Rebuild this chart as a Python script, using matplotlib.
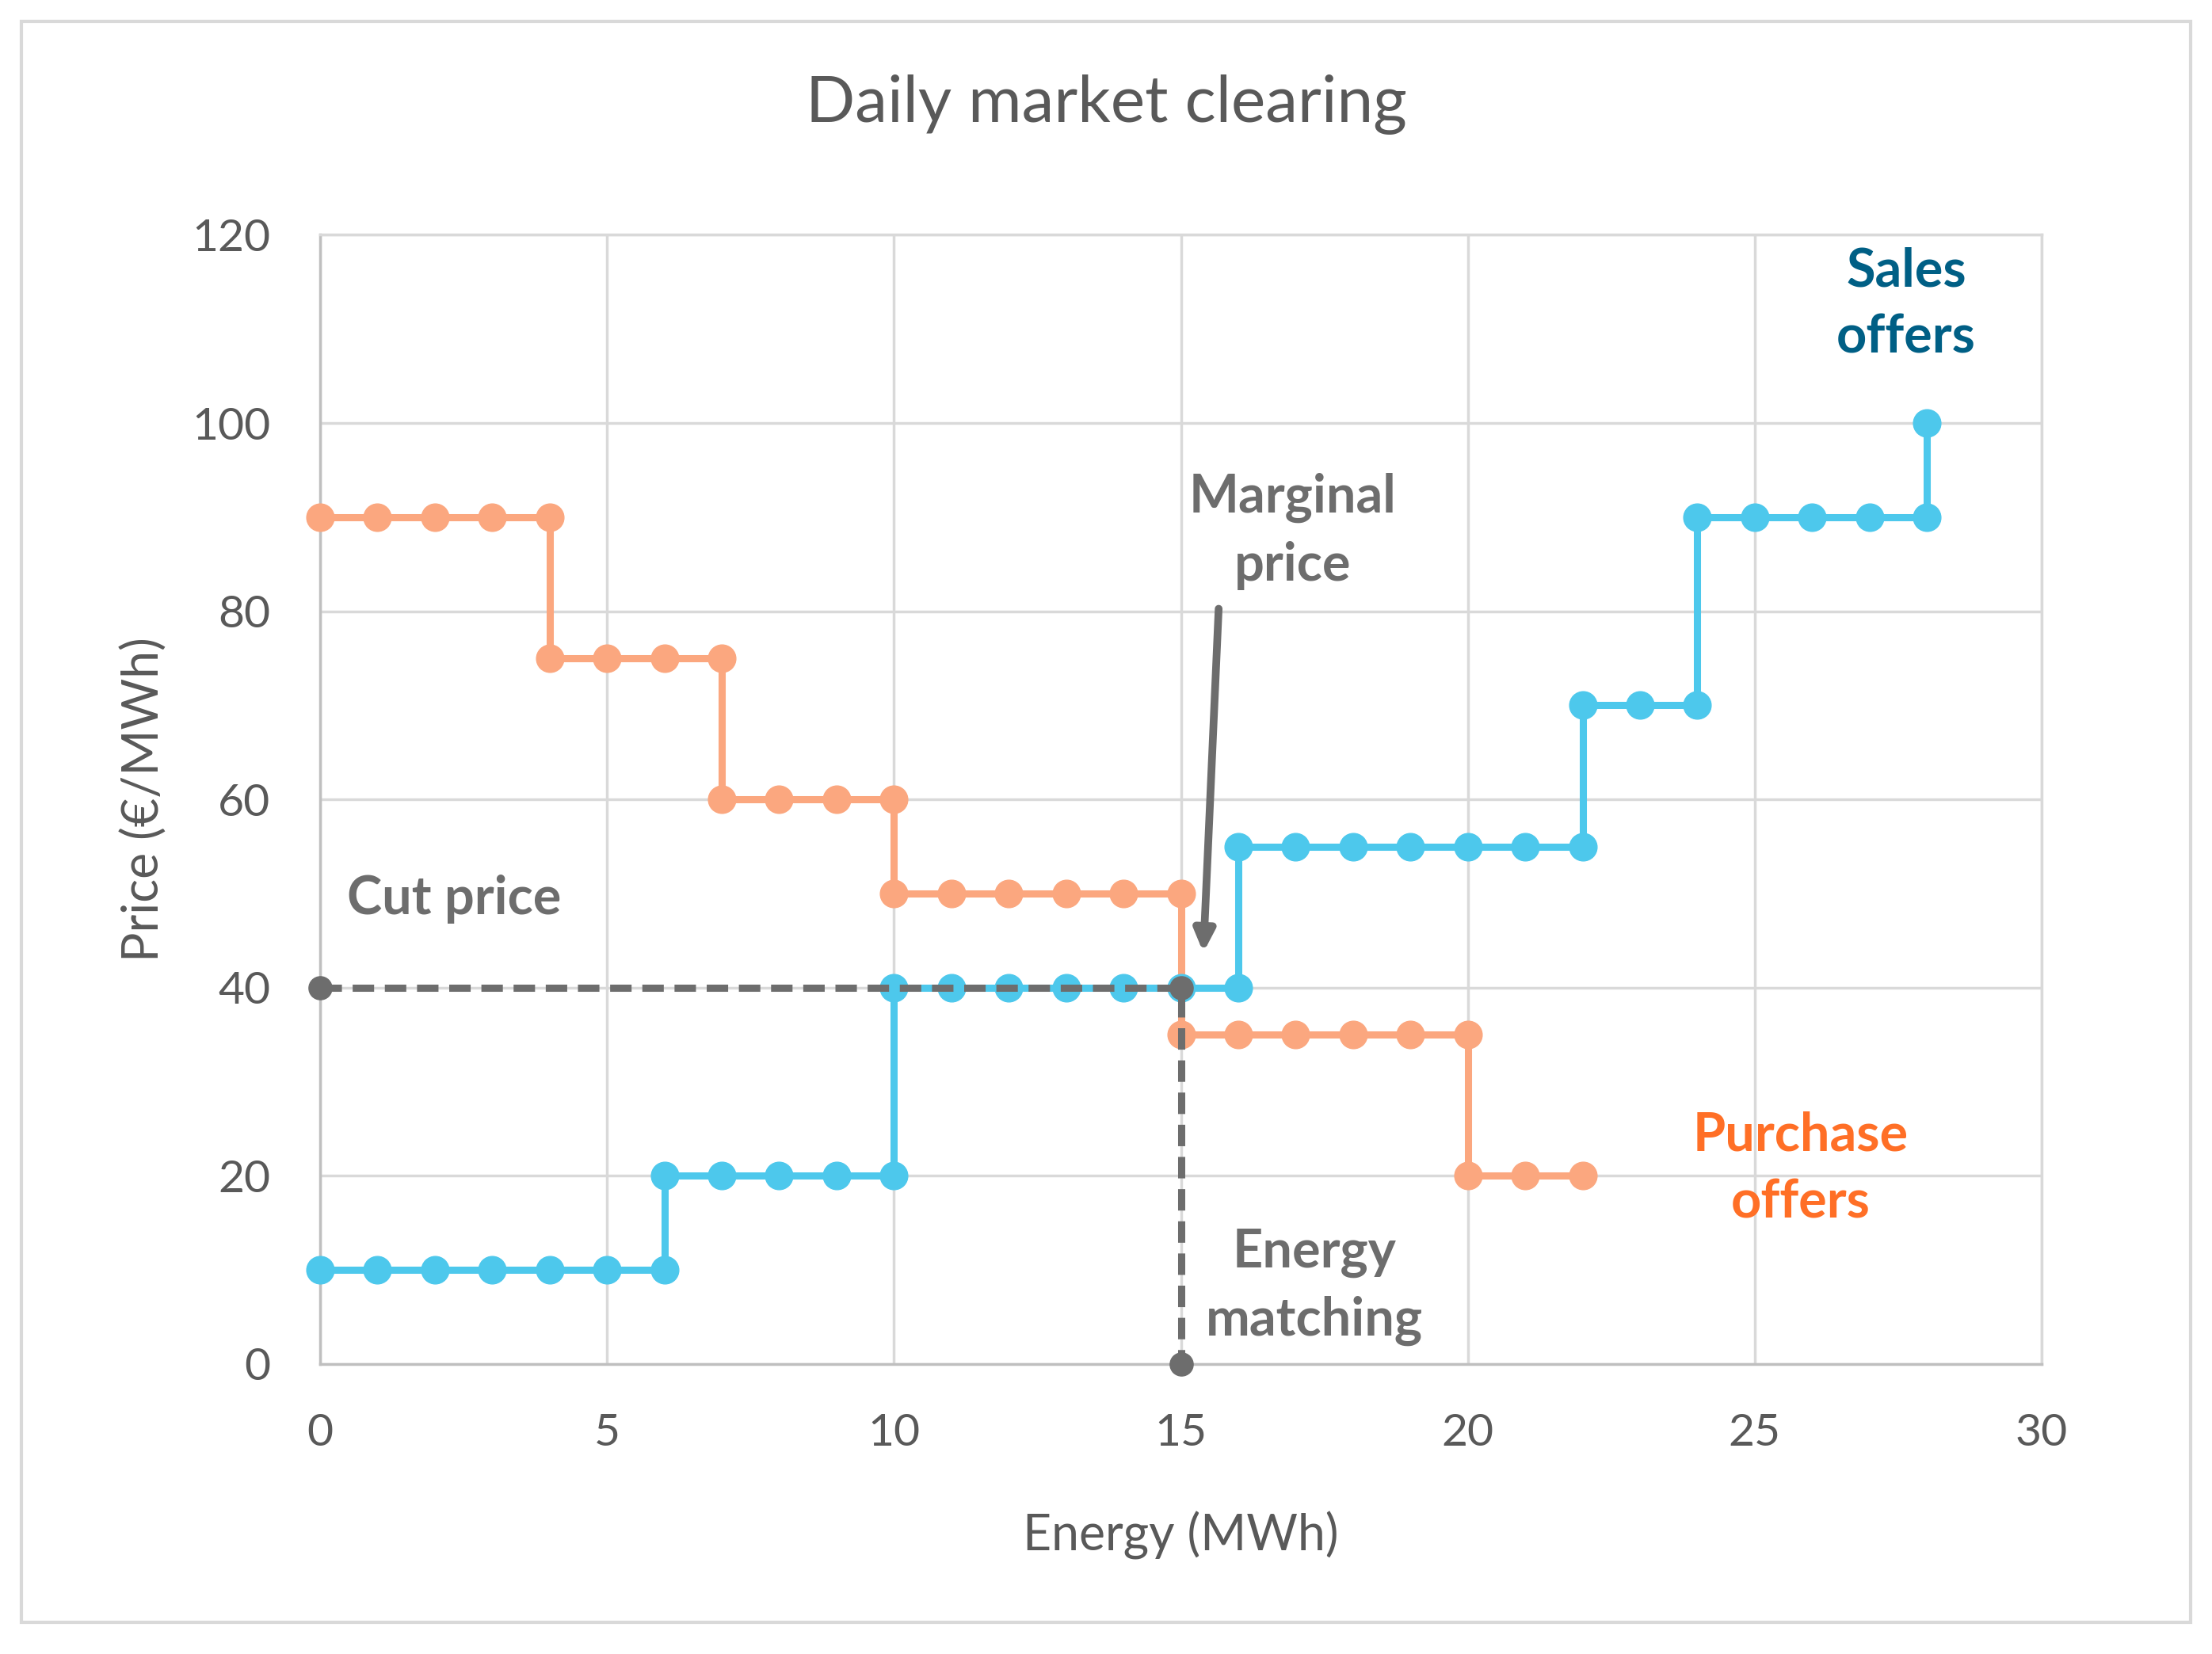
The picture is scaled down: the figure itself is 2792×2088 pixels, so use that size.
import matplotlib
matplotlib.use("Agg")
import matplotlib.pyplot as plt
from matplotlib.patches import Rectangle

# ---- data ----
purchase_x = [0, 1, 2, 3, 4, 4, 5, 6, 7, 7, 8, 9, 10, 10, 11, 12, 13, 14, 15, 15, 16, 17, 18, 19, 20, 20, 21, 22]
purchase_y = [90, 90, 90, 90, 90, 75, 75, 75, 75, 60, 60, 60, 60, 50, 50, 50, 50, 50, 50, 35, 35, 35, 35, 35, 35, 20, 20, 20]
sales_x = [0, 1, 2, 3, 4, 5, 6, 6, 7, 8, 9, 10, 10, 11, 12, 13, 14, 15, 16, 16, 17, 18, 19, 20, 21, 22, 22, 23, 24, 24, 25, 26, 27, 28, 28]
sales_y = [10, 10, 10, 10, 10, 10, 10, 20, 20, 20, 20, 20, 40, 40, 40, 40, 40, 40, 40, 55, 55, 55, 55, 55, 55, 55, 70, 70, 70, 90, 90, 90, 90, 90, 100]
cut_x = [0, 15, 15]
cut_y = [40, 40, 0]
x_ticks = [0, 5, 10, 15, 20, 25, 30]
y_ticks = [0, 20, 40, 60, 80, 100, 120]

FONT = ["Lato", "DejaVu Sans"]
plt.rcParams['font.family'] = FONT

ORANGE = "#FBA77F"
BLUE = "#4DC8EC"
GRAY = "#6D6D6D"
TXT = "#595959"

fig = plt.figure(figsize=(27.92, 20.88), dpi=100)
fig.patches.append(Rectangle((27 / 2792, 1 - 2048 / 2088), (2765 - 27) / 2792, (2048 - 27) / 2088,
                             transform=fig.transFigure, fill=False, edgecolor="#D9D9D9", linewidth=3))
ax = fig.add_axes([0.1447, 0.1753, 0.923 - 0.1447, 0.858 - 0.1753])

ax.plot(purchase_x, purchase_y, color=ORANGE, lw=6.5, marker="o", ms=25, zorder=3, clip_on=False)
ax.plot(sales_x, sales_y, color=BLUE, lw=6.5, marker="o", ms=25, zorder=3, clip_on=False)
ax.plot(cut_x, cut_y, color=GRAY, lw=6.5, ls=(0, (3, 1.5)), marker="o", ms=21, zorder=4, clip_on=False)

ax.set_xlim(0, 30)
ax.set_ylim(0, 120)
ax.set_xticks(x_ticks)
ax.set_yticks(y_ticks)
ax.grid(True, color="#D9D9D9", lw=2.5)
ax.set_axisbelow(True)
for s in ["top", "right"]:
    ax.spines[s].set_color("#D9D9D9")
    ax.spines[s].set_linewidth(2.5)
for s in ["left", "bottom"]:
    ax.spines[s].set_color("#BFBFBF")
    ax.spines[s].set_linewidth(2.5)
ax.tick_params(axis="y", length=0, labelsize=41, labelcolor=TXT, pad=45)
ax.tick_params(axis="x", length=0, labelsize=41, labelcolor=TXT, pad=45)

ax.set_xlabel("Energy (MWh)", fontsize=45, color=TXT, labelpad=52)
ax.set_ylabel("Price (€/MWh)", fontsize=45, color=TXT, labelpad=22)
fig.text(0.5, 1 - 132 / 2088, "Daily market clearing", ha="center", va="center", fontsize=59, color=TXT)

ax.annotate("", xy=(15.39, 43.5), xytext=(15.66, 80.5),
            arrowprops=dict(arrowstyle="-|>,head_width=0.75,head_length=1.6", color=GRAY, lw=7))

bold = dict(fontweight="bold", ha="center", va="center", fontsize=48, linespacing=1.45)
ax.text(16.95, 88.5, "Marginal\nprice", color=GRAY, **bold)
ax.text(2.34, 49.4, "Cut price", color=GRAY, **bold)
ax.text(17.33, 8.2, "Energy\nmatching", color=GRAY, **bold)
ax.text(25.8, 20.7, "Purchase\noffers", color="#FF6F26", **bold)
ax.text(27.64, 112.6, "Sales\noffers", color="#005F85", **bold)

fig.savefig("out.png", dpi=100, facecolor="white")
